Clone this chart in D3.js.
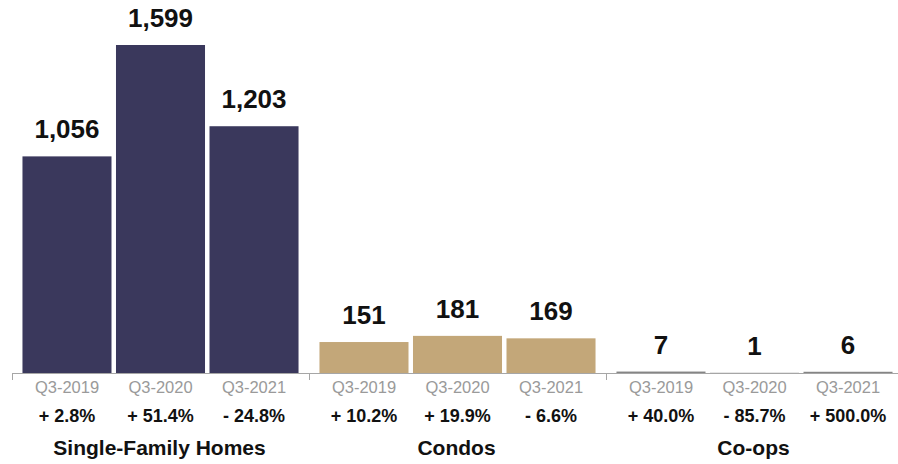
<!DOCTYPE html>
<html>
<head>
<meta charset="utf-8">
<script src="https://cdn.jsdelivr.net/npm/d3@7"></script>
<style>
  html, body { margin: 0; padding: 0; background: #fff; }
  svg { display: block; font-family: "Liberation Sans", Arial, Helvetica, sans-serif; }
</style>
</head>
<body>
<svg id="chart" width="898" height="464"></svg>
<script>
// Closed sales by property type, third quarter of each year
const groups = ["Single-Family Homes", "Condos", "Co-ops"];
const periods = ["Q3-2019", "Q3-2020", "Q3-2021"];
const singleFamily = [1056, 1599, 1203];
const condos = [151, 181, 169];
const coops = [7, 1, 6];
const singleFamilyChange = ["+ 2.8%", "+ 51.4%", "- 24.8%"];
const condosChange = ["+ 10.2%", "+ 19.9%", "- 6.6%"];
const coopsChange = ["+ 40.0%", "- 85.7%", "+ 500.0%"];
const groupColors = ["#3a385c", "#c3a779", "#858585"];

const seriesValues = [singleFamily, condos, coops];
const seriesChange = [singleFamilyChange, condosChange, coopsChange];

const rows = [];
groups.forEach((g, gi) => {
  periods.forEach((p, pi) => {
    rows.push({ group: g, period: p, value: seriesValues[gi][pi], change: seriesChange[gi][pi], color: groupColors[gi] });
  });
});

const svg = d3.select("#chart");
const baseline = 373;

const x0 = d3.scaleBand().domain(groups).range([12, 903]).padding(0);
const x1 = d3.scaleBand().domain(periods).range([0, x0.bandwidth()])
  .paddingInner(0.048).paddingOuter(0.112);
const y = d3.scaleLinear().domain([0, 1599]).range([baseline, 45]);

const fmt = d3.format(",");

// bars
const g = svg.append("g");
g.selectAll("rect.bar").data(rows).join("rect")
  .attr("class", "bar")
  .attr("x", d => x0(d.group) + x1(d.period))
  .attr("width", x1.bandwidth())
  .attr("y", d => y(d.value))
  .attr("height", d => baseline - y(d.value))
  .attr("fill", d => d.color);

// axis line with group separators
const axisColor = "#a6a6a6";
svg.append("line")
  .attr("x1", x0.range()[0]).attr("x2", 898)
  .attr("y1", baseline + 0.5).attr("y2", baseline + 0.5)
  .attr("stroke", axisColor).attr("stroke-width", 1);
svg.selectAll("line.sep").data(groups).join("line")
  .attr("class", "sep")
  .attr("x1", d => Math.round(x0(d)) + 0.5).attr("x2", d => Math.round(x0(d)) + 0.5)
  .attr("y1", baseline).attr("y2", baseline + 7)
  .attr("stroke", axisColor).attr("stroke-width", 1);

// value labels
g.selectAll("text.val").data(rows).join("text")
  .attr("class", "val")
  .attr("x", d => x0(d.group) + x1(d.period) + x1.bandwidth() / 2)
  .attr("y", d => y(d.value) - 18)
  .attr("text-anchor", "middle")
  .attr("font-size", 26).attr("font-weight", "bold").attr("fill", "#111")
  .text(d => fmt(d.value));

// period labels
g.selectAll("text.per").data(rows).join("text")
  .attr("class", "per")
  .attr("x", d => x0(d.group) + x1(d.period) + x1.bandwidth() / 2)
  .attr("y", 393)
  .attr("text-anchor", "middle")
  .attr("font-size", 16.5).attr("fill", "#9a9a9a")
  .text(d => d.period);

// year-over-year change
g.selectAll("text.chg").data(rows).join("text")
  .attr("class", "chg")
  .attr("x", d => x0(d.group) + x1(d.period) + x1.bandwidth() / 2)
  .attr("y", 422)
  .attr("text-anchor", "middle")
  .attr("font-size", 18).attr("font-weight", "bold").attr("fill", "#111")
  .text(d => d.change);

// group labels
svg.selectAll("text.grp").data(groups).join("text")
  .attr("class", "grp")
  .attr("x", d => x0(d) + x0.bandwidth() / 2 - 1)
  .attr("y", 455)
  .attr("text-anchor", "middle")
  .attr("font-size", 21).attr("font-weight", "bold").attr("fill", "#111")
  .text(d => d);
</script>
</body>
</html>
